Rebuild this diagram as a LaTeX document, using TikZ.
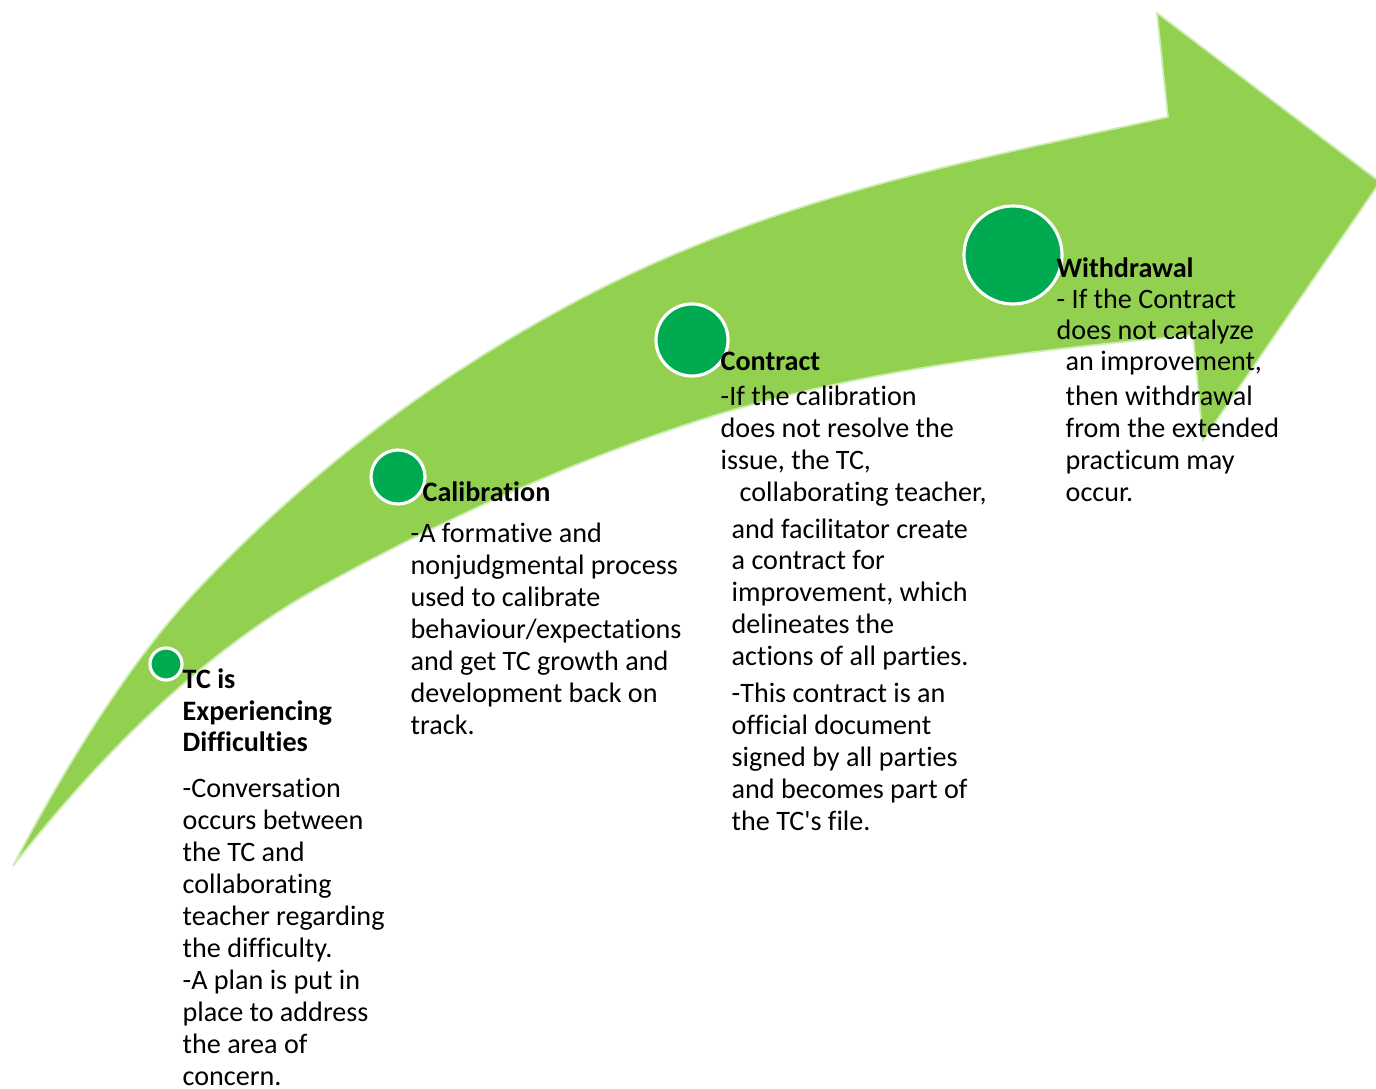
\documentclass[tikz,border=0pt]{standalone}
\usepackage{fontspec}
\setmainfont{Carlito}[Ligatures=NoCommon]
\begin{document}
\begin{tikzpicture}[x=0.01cm, y=-0.01cm,
    dot/.style={circle, fill=dotgreen, draw=white, line width=0.9pt, inner sep=0pt},
    txt/.style={anchor=base west, align=left, inner sep=0pt, font=\fontsize{8}{9.07}\selectfont}]

    \definecolor{arrowgreen}{RGB}{146, 208, 80}
    \definecolor{arrowrim}{RGB}{205, 236, 175}
    \definecolor{dotgreen}{RGB}{0, 170, 80}
    \useasboundingbox (0,0) rectangle (1376,1088);

    % arrow
    \filldraw [fill=arrowgreen, draw=arrowrim, line width=0.5pt]
        (13,866) .. controls (75,748) and (138,652) .. (200,587)
        .. controls (320,461) and (440,376) .. (560,310)
        .. controls (763,198) and (965,162) .. (1168,117)
        -- (1157,13) -- (1380,182) -- (1203,440) -- (1193,335)
        .. controls (1029,351) and (864,368) .. (700,420)
        .. controls (573,461) and (447,517) .. (320,587)
        .. controls (218,643) and (115,736) .. (13,866)
        -- cycle;

    % steps
    \node [dot, minimum size=0.32cm] (dot1) at (166,664) {};
    \node [dot, minimum size=0.54cm] (dot2) at (398,477) {};
    \node [dot, minimum size=0.72cm] (dot3) at (692,340) {};
    \node [dot, minimum size=0.98cm] (dot4) at (1013,255) {};

    % texts (placed by the baseline of their last line)
    \node [txt] (tc) at (182,1085) {\textbf{TC is}\\\textbf{Experiencing}\\\textbf{Difficulties}\\[4pt]
        -Conversation\\occurs between\\the TC and\\collaborating\\teacher regarding\\the difficulty.\\
        -A plan is put in\\place to address\\the area of\\concern.};

    \node [txt] (calhead) at (422,501) {\textbf{Calibration}};
    \node [txt] (calbody) at (410,734) {-A formative and\\nonjudgmental process\\used to calibrate\\behaviour/expectations\\and get TC growth and\\development back on\\track.};

    \node [txt] (cona) at (720,469) {\textbf{Contract}\\[0.85pt]-If the calibration\\does not resolve the\\issue, the TC,};
    \node [txt] (conb) at (739,501) {collaborating teacher,};
    \node [txt] (conc) at (731,830) {and facilitator create\\a contract for\\improvement, which\\delineates the\\actions of all parties.\\[1.4pt]
        -This contract is an\\official document\\signed by all parties\\and becomes part of\\the TC\textquotesingle s file.};

    \node [txt] (wda) at (1056,339) {\textbf{Withdrawal}\\[-0.3pt]- If the Contract\\[-0.3pt]does not catalyze};
    \node [txt] (wdb) at (1065,501) {an improvement,\\[0.85pt]then withdrawal\\from the extended\\practicum may\\occur.};

\end{tikzpicture}
\end{document}
